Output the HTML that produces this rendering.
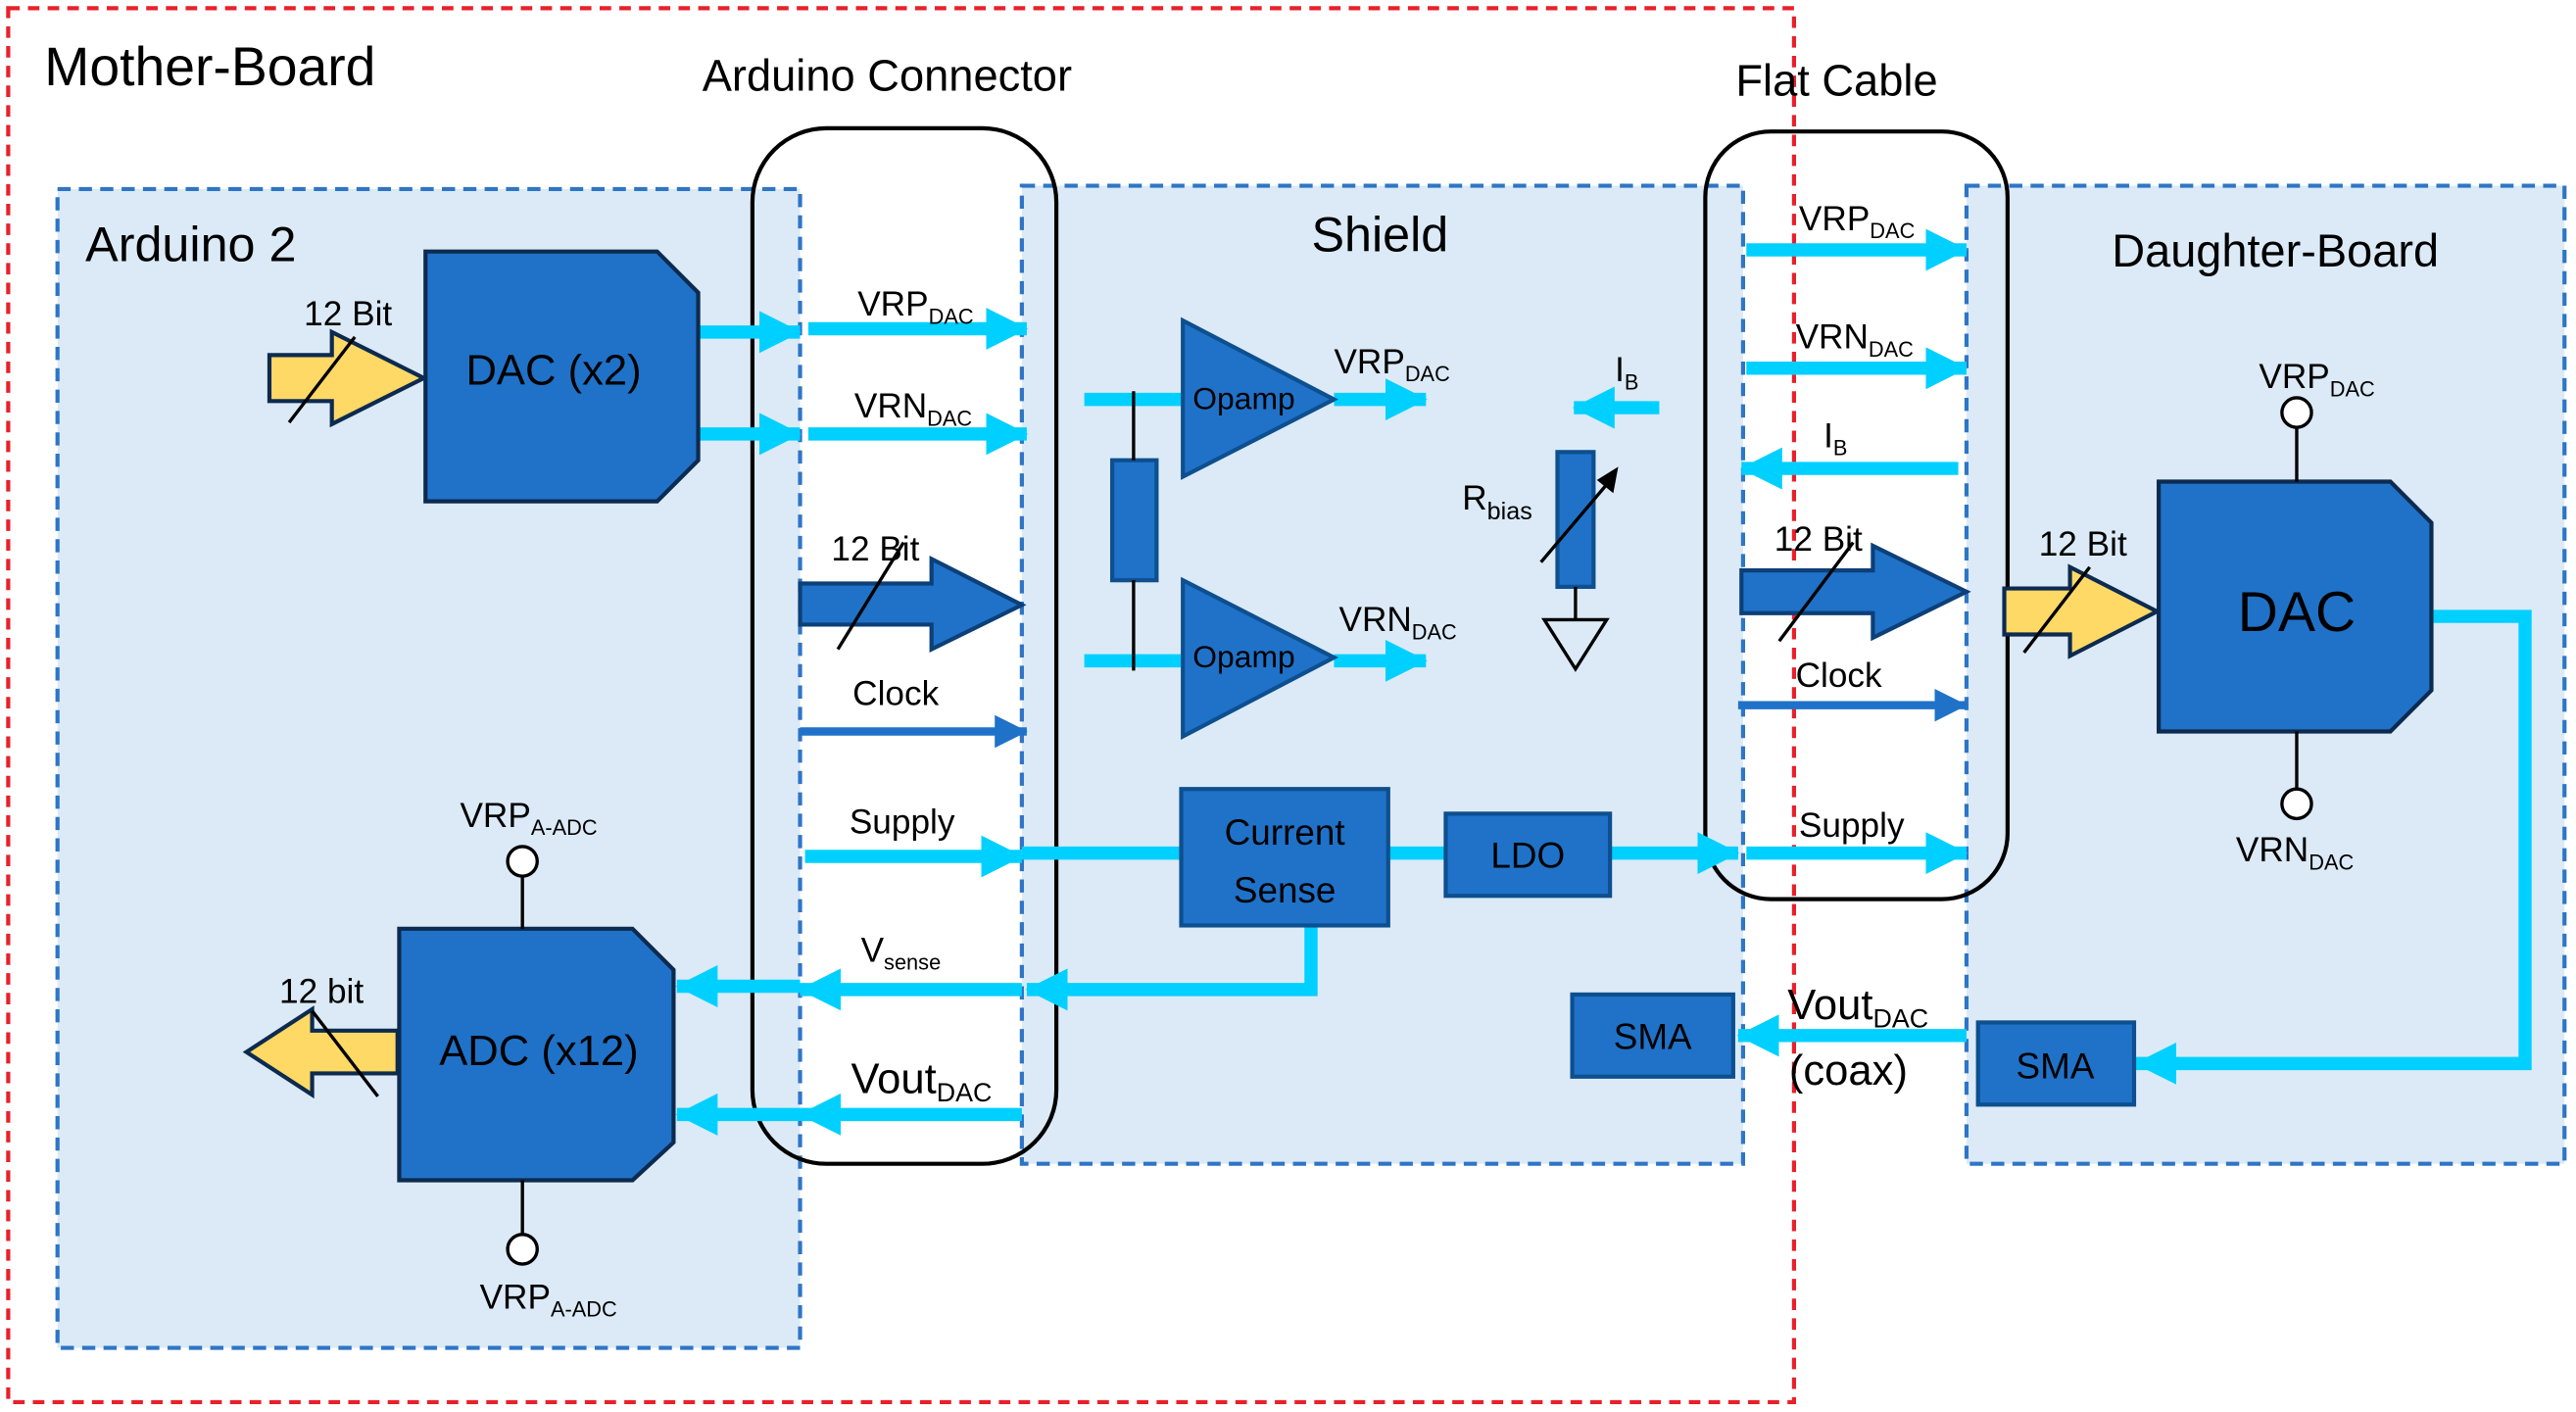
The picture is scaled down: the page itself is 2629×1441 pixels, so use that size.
<!DOCTYPE html>
<html><head><meta charset="utf-8"><style>html,body{margin:0;padding:0;background:#fff}svg{display:block}text{font-family:"Liberation Sans",sans-serif;fill:#000}</style></head><body>
<svg width="2629" height="1441" viewBox="0 0 1568 859" preserveAspectRatio="none" xmlns="http://www.w3.org/2000/svg">
<defs>
<marker id="c" markerWidth="3.2" markerHeight="3.2" refX="3.1" refY="1.6" orient="auto" markerUnits="strokeWidth"><path d="M0,0 L3.2,1.6 L0,3.2 Z" fill="#00d0ff"/></marker>
<marker id="b" markerWidth="4" markerHeight="4" refX="3.9" refY="2" orient="auto" markerUnits="strokeWidth"><path d="M0,0 L4,2 L0,4 Z" fill="#1f72c8"/></marker>
</defs>
<g fill="#dbeaf6" stroke="#2e75c6" stroke-width="2.5" stroke-dasharray="8,5">
<rect x="35" y="115" width="452" height="705"/>
<rect x="622" y="113" width="439" height="595"/>
<rect x="1197" y="113" width="364" height="595"/>
</g>
<rect x="5" y="5" width="1087" height="848" fill="none" stroke="#e8202a" stroke-width="2.5" stroke-dasharray="7,5"/>
<rect x="458" y="78" width="185" height="630" rx="45" fill="none" stroke="#000" stroke-width="2.5"/>
<rect x="1038" y="80" width="184" height="467" rx="40" fill="none" stroke="#000" stroke-width="2.5"/>
<text x="27" y="52" font-size="33">Mother-Board</text>
<text x="540" y="55" font-size="27" text-anchor="middle">Arduino Connector</text>
<text x="1118" y="58" font-size="27" text-anchor="middle">Flat Cable</text>
<text x="52" y="159" font-size="30">Arduino 2</text>
<text x="840" y="153" font-size="30" text-anchor="middle">Shield</text>
<text x="1385" y="162" font-size="28" text-anchor="middle">Daughter-Board</text>
<g stroke="#00d0ff" stroke-width="8" fill="none" marker-end="url(#c)">
<line x1="425" y1="202" x2="487" y2="202"/><line x1="425" y1="264" x2="487" y2="264"/>
<line x1="492" y1="200" x2="625" y2="200"/><line x1="492" y1="264" x2="625" y2="264"/>
<line x1="490" y1="521" x2="622" y2="521"/>
<line x1="622" y1="602" x2="487" y2="602"/><line x1="487" y1="600" x2="412" y2="600"/>
<line x1="622" y1="678" x2="487" y2="678"/><line x1="487" y1="678" x2="412" y2="678"/>
<line x1="812" y1="243" x2="868" y2="243"/><line x1="812" y1="402" x2="868" y2="402"/>
<line x1="1010" y1="248" x2="958" y2="248"/>
<line x1="980" y1="519" x2="1058" y2="519"/>
<line x1="1063" y1="152" x2="1197" y2="152"/><line x1="1063" y1="224" x2="1197" y2="224"/>
<line x1="1192" y1="285" x2="1060" y2="285"/>
<line x1="1063" y1="519" x2="1197" y2="519"/>
<line x1="1197" y1="630" x2="1058" y2="630"/>
<polyline points="1480,375 1537,375 1537,647 1300,647"/>
<polyline points="798,563 798,602 625,602"/>
</g>
<g stroke="#00d0ff" stroke-width="8">
<line x1="622" y1="519" x2="719" y2="519"/><line x1="845" y1="519" x2="880" y2="519"/>
<line x1="660" y1="243" x2="720" y2="243"/><line x1="660" y1="402" x2="720" y2="402"/>
</g>
<g stroke="#1f72c8" stroke-width="5" marker-end="url(#b)">
<line x1="487" y1="445" x2="625" y2="445"/><line x1="1058" y1="429" x2="1197" y2="429"/>
</g>
<g fill="#1f72c8" stroke="#0d3f78" stroke-width="2.5">
<polygon points="487,355 567,355 567,340 622,368 567,395 567,380 487,380"/>
<polygon points="1060,347 1140,347 1140,332 1197,360 1140,388 1140,373 1060,373"/>
</g>
<g fill="#ffd966" stroke="#0d2a4f" stroke-width="2.5">
<polygon points="164,216 202,216 202,202 258,230 202,258 202,244 164,244"/>
<polygon points="1220,358 1260,358 1260,345 1313,372 1260,399 1260,386 1220,386"/>
<polygon points="242,627 190,627 190,614 150,640 190,666 190,653 242,653"/>
</g>
<g fill="#1f72c8" stroke="#0d2a4f" stroke-width="2.5">
<polygon points="259,153 400,153 425,178 425,280 400,305 259,305"/>
<polygon points="1314,293 1455,293 1480,318 1480,420 1455,445 1314,445"/>
<polygon points="243,565 385,565 410,590 410,695 385,718 243,718"/>
</g>
<g fill="#1f72c8" stroke="#0d4f8f" stroke-width="2.5">
<polygon points="720,195 812,243 720,290"/><polygon points="720,353 812,400 720,448"/>
<rect x="677" y="280" width="27" height="73"/>
<rect x="948" y="275" width="22" height="82"/>
<rect x="719" y="480" width="126" height="83"/>
<rect x="880" y="495" width="100" height="50"/>
<rect x="957" y="605" width="98" height="50"/>
<rect x="1204" y="622" width="95" height="50"/>
</g>
<g stroke="#000" stroke-width="2" fill="none">
<line x1="690" y1="238" x2="690" y2="280"/><line x1="690" y1="353" x2="690" y2="408"/>
<line x1="176" y1="257" x2="216" y2="205"/><line x1="1232" y1="397" x2="1272" y2="345"/>
<line x1="190" y1="615" x2="230" y2="667"/>
<line x1="510" y1="395" x2="550" y2="330"/><line x1="1083" y1="390" x2="1128" y2="330"/>
<line x1="959" y1="357" x2="959" y2="377"/><polygon points="940,377 978,377 959,407"/>
<line x1="938" y1="342" x2="982" y2="290"/>
<line x1="318" y1="533" x2="318" y2="565"/><line x1="318" y1="718" x2="318" y2="751"/>
<line x1="1398" y1="260" x2="1398" y2="293"/><line x1="1398" y1="445" x2="1398" y2="480"/>
</g>
<polygon points="985,284 982,300 972,292" fill="#000"/>
<g fill="#fff" stroke="#000" stroke-width="2">
<circle cx="318" cy="524" r="9"/><circle cx="318" cy="760" r="9"/>
<circle cx="1398" cy="251" r="9"/><circle cx="1398" cy="489" r="9"/>
</g>
<g font-size="21">
<text x="185" y="198">12 Bit</text>
<text x="506" y="341">12 Bit</text>
<text x="1080" y="335">12 Bit</text>
<text x="1241" y="338">12 Bit</text>
<text x="170" y="610">12 bit</text>
<text x="519" y="429">Clock</text>
<text x="1093" y="418">Clock</text>
<text x="517" y="507">Supply</text>
<text x="1095" y="509">Supply</text>
<text x="522" y="192">VRP<tspan font-size="13" dy="5">DAC</tspan></text>
<text x="520" y="254">VRN<tspan font-size="13" dy="5">DAC</tspan></text>
<text x="812" y="227">VRP<tspan font-size="13" dy="5">DAC</tspan></text>
<text x="815" y="384">VRN<tspan font-size="13" dy="5">DAC</tspan></text>
<text x="1095" y="140">VRP<tspan font-size="13" dy="5">DAC</tspan></text>
<text x="1093" y="212">VRN<tspan font-size="13" dy="5">DAC</tspan></text>
<text x="1375" y="236">VRP<tspan font-size="13" dy="5">DAC</tspan></text>
<text x="1361" y="524">VRN<tspan font-size="13" dy="5">DAC</tspan></text>
<text x="280" y="503">VRP<tspan font-size="13" dy="5">A-ADC</tspan></text>
<text x="292" y="796">VRP<tspan font-size="13" dy="5">A-ADC</tspan></text>
<text x="524" y="585">V<tspan font-size="13" dy="5">sense</tspan></text>
<text x="983" y="232">I<tspan font-size="13" dy="5">B</tspan></text>
<text x="1110" y="272">I<tspan font-size="13" dy="5">B</tspan></text>
<text x="890" y="310">R<tspan font-size="15" dy="6">bias</tspan></text>
<text x="726" y="249" font-size="19">Opamp</text>
<text x="726" y="406" font-size="19">Opamp</text>
</g>
<text x="518" y="665" font-size="26">Vout<tspan font-size="16" dy="5">DAC</tspan></text>
<text x="1088" y="620" font-size="26">Vout<tspan font-size="16" dy="5">DAC</tspan></text>
<text x="1089" y="660" font-size="26">(coax)</text>
<g fill="#000" font-size="24" text-anchor="middle">
<text x="337" y="234" font-size="26">DAC (x2)</text>
<text x="1398" y="384" font-size="34">DAC</text>
<text x="328" y="648" font-size="26">ADC (x12)</text>
<text x="782" y="514" font-size="22">Current</text>
<text x="782" y="549" font-size="22">Sense</text>
<text x="930" y="528" font-size="22">LDO</text>
<text x="1006" y="638" font-size="22">SMA</text>
<text x="1251" y="656" font-size="22">SMA</text>
</g>
</svg>
</body></html>
